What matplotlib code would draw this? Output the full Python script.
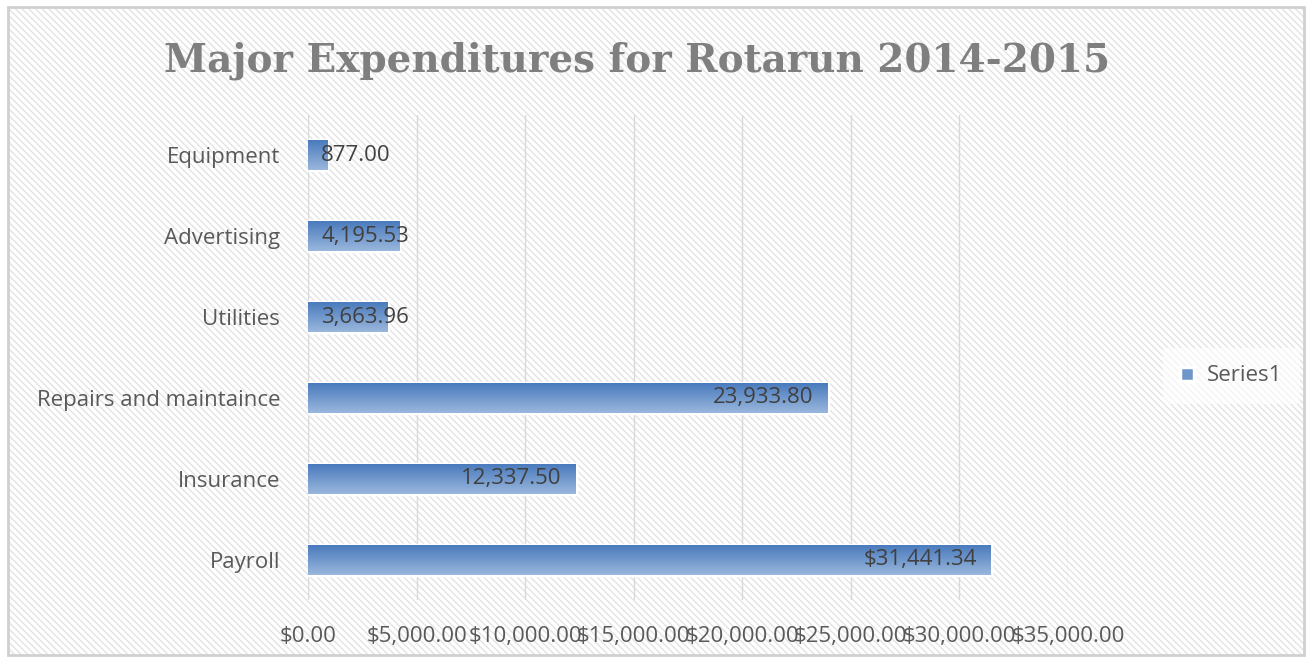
import numpy as np
import matplotlib
matplotlib.use('Agg')
import matplotlib.pyplot as plt
from matplotlib.patches import Rectangle
from matplotlib.ticker import FuncFormatter, MultipleLocator

# datos (de abajo hacia arriba)
categorias = ['Payroll', 'Insurance', 'Repairs and maintaince',
              'Utilities', 'Advertising', 'Equipment']
valores = [31441.34, 12337.50, 23933.80, 3663.96, 4195.53, 877.00]
etiquetas = ['$31,441.34', '12,337.50', '23,933.80',
             '3,663.96', '4,195.53', '877.00']
serie = 'Series1'
titulo = 'Major Expenditures for Rotarun 2014-2015'

fuente = ['Open Sans', 'DejaVu Sans']
gris_texto = '#595959'

fig = plt.figure(figsize=(13.08, 6.6), dpi=100)
fig.patch.set_facecolor('white')

# fondo rayado y borde del grafico
fondo = Rectangle((0.006, 0.008), 0.991, 0.982, transform=fig.transFigure,
                  facecolor='white', edgecolor='#e3e3e3', hatch='\\\\\\\\\\',
                  linewidth=0, zorder=-2)
fig.patches.append(fondo)
borde = Rectangle((0.006, 0.008), 0.991, 0.982, transform=fig.transFigure,
                  facecolor='none', edgecolor='#d0d0d0', linewidth=2, zorder=-1)
fig.patches.append(borde)

ax = fig.add_axes([0.2355, 0.0909, 0.581, 0.735])
ax.patch.set_alpha(0)

y = np.arange(len(categorias))
barras = ax.barh(y, valores, height=0.37, color='#6f96c9', edgecolor='white',
                 linewidth=2.5, label=serie, zorder=3)

# degradado vertical dentro de cada barra (oscuro arriba)
grad = np.linspace(0, 1, 64).reshape(-1, 1)
cmap = matplotlib.colors.LinearSegmentedColormap.from_list('g', ['#4a7bbd', '#9ab7dd'])
for b in barras:
    x0, y0, w, h = b.get_x(), b.get_y(), b.get_width(), b.get_height()
    ax.imshow(grad, extent=(x0, x0 + w, y0, y0 + h), aspect='auto', cmap=cmap,
              zorder=3.5, interpolation='bilinear')

ax.set_xlim(0, 35000)
ax.set_ylim(-0.5, len(categorias) - 0.5)

# etiquetas de datos
for i, (v, t) in enumerate(zip(valores, etiquetas)):
    if v > 8000:
        ax.annotate(t, (v, i), xytext=(-14, 0), textcoords='offset pixels',
                    ha='right', va='center', fontsize=16, color='#404040',
                    family=fuente, zorder=5)
    else:
        ax.annotate(t, (0, i), xytext=(13, 0), textcoords='offset pixels',
                    ha='left', va='center', fontsize=16, color='#404040',
                    family=fuente, zorder=5)

ax.xaxis.set_major_locator(MultipleLocator(5000))
ax.xaxis.set_major_formatter(FuncFormatter(lambda v, p: f'${v:,.2f}'))
ax.set_yticks(y)
ax.set_yticklabels(categorias)
ax.grid(axis='x', color='#d9d9d9', linewidth=1, zorder=0)
ax.set_axisbelow(True)
for s in ax.spines.values():
    s.set_visible(False)
ax.tick_params(axis='both', length=0, colors=gris_texto, labelsize=16)
ax.tick_params(axis='x', pad=19)
ax.tick_params(axis='y', pad=20)
for lab in ax.get_xticklabels() + ax.get_yticklabels():
    lab.set_family(fuente)

fig.text(0.487, 0.908, titulo, ha='center', va='center', fontsize=28,
         fontweight='bold', color='#7f7f7f', family=['DejaVu Serif'])

leg = ax.legend(loc='center left', bbox_to_anchor=(1.11, 0.462), frameon=True,
                handlelength=0.6, handleheight=0.6, handletextpad=0.6,
                prop={'family': fuente, 'size': 16}, borderpad=0.8)
leg.get_frame().set_facecolor('white')
leg.get_frame().set_alpha(0.6)
leg.get_frame().set_linewidth(0)
for t in leg.get_texts():
    t.set_color(gris_texto)

fig.savefig('out.png', dpi=100)
